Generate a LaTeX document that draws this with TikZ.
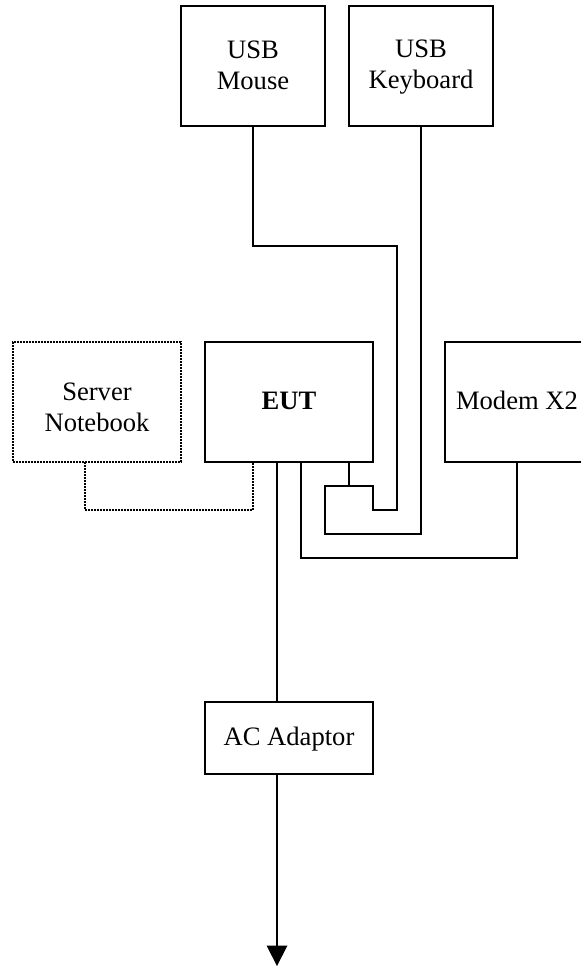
\documentclass[tikz,border=0pt]{standalone}
\usepackage{fontspec}
\setmainfont{Liberation Serif}
\newcommand{\topstrut}[1]{\rule{0pt}{#1bp}}
\newcommand{\botstrut}[1]{\rule[-#1bp]{0pt}{#1bp}}
\newcommand{\onestrut}{\rule[-5bp]{0pt}{25bp}}
\tikzset{
  x=1bp,y=-1bp,
  boxbase/.style={rectangle,inner sep=0pt,outer sep=0pt,align=center,
    font=\fontsize{26.6bp}{31bp}\selectfont},
  solidbox/.style={boxbase,draw=black,line width=2bp},
  dotbox/.style={boxbase,draw=black,line width=2bp,dash pattern=on 2bp off 1bp},
  wire/.style={draw=black,line width=2bp,line join=miter},
  dotwire/.style={draw=black,line width=2bp,dash pattern=on 2bp off 1bp},
}
\begin{document}
\begin{tikzpicture}
\useasboundingbox (0,0) rectangle (581,966);
\node[solidbox,minimum width=144bp,minimum height=120bp] (mouse) at (253,66) {\topstrut{20}USB\\Mouse\botstrut{5}};
\node[solidbox,minimum width=144bp,minimum height=120bp] (kbd) at (421,66) {\topstrut{20}USB\\Keyboard\botstrut{5}};
\node[solidbox,minimum width=168bp,minimum height=120bp] (eut) at (289,402) {\onestrut\textbf{EUT}};
\node[dotbox,minimum width=168bp,minimum height=120bp] (server) at (97,402) {\topstrut{34}Server\\Notebook\botstrut{6}};
\node[solidbox,minimum width=144bp,minimum height=120bp] (modem) at (517,402) {\onestrut Modem X2};
\node[solidbox,minimum width=168bp,minimum height=72bp] (ac) at (289,738) {\onestrut AC Adaptor};
% points where the wires leave the EUT box
\coordinate (eutA) at (eut.south -| 277,0);
\coordinate (eutB) at (eut.south -| 301,0);
\coordinate (eutC) at (eut.south -| 349,0);
\coordinate (eutD) at (eut.south -| 253,0);
\coordinate (jn) at (349,486);
\coordinate (acin) at (ac.north -| 277,0);
\coordinate (acout) at (ac.south -| 277,0);
\coordinate (endp) at (277,966);
% USB mouse and keyboard wires, joined at the EUT
\draw[wire] (mouse.south) -- (253,246) -- (397,246) -- (397,510) -- (373,510) -- (373,486) -- (325,486) -- (325,534) -- (421,534) -- (kbd.south);
\draw[wire] (eutC) -- (jn);
\draw[wire] (eutB) -- (301,558) -- (517,558) -- (modem.south);
\draw[wire] (eutA) -- (acin);
\draw[wire] (acout) -- (277,946);
\fill[black] (266.5,945.5) -- (287.5,945.5) -- (endp) -- cycle;
\draw[dotwire] (server.south -| 85,0) -- (85,510) -- (253,510) -- (eutD);
\end{tikzpicture}
\end{document}
